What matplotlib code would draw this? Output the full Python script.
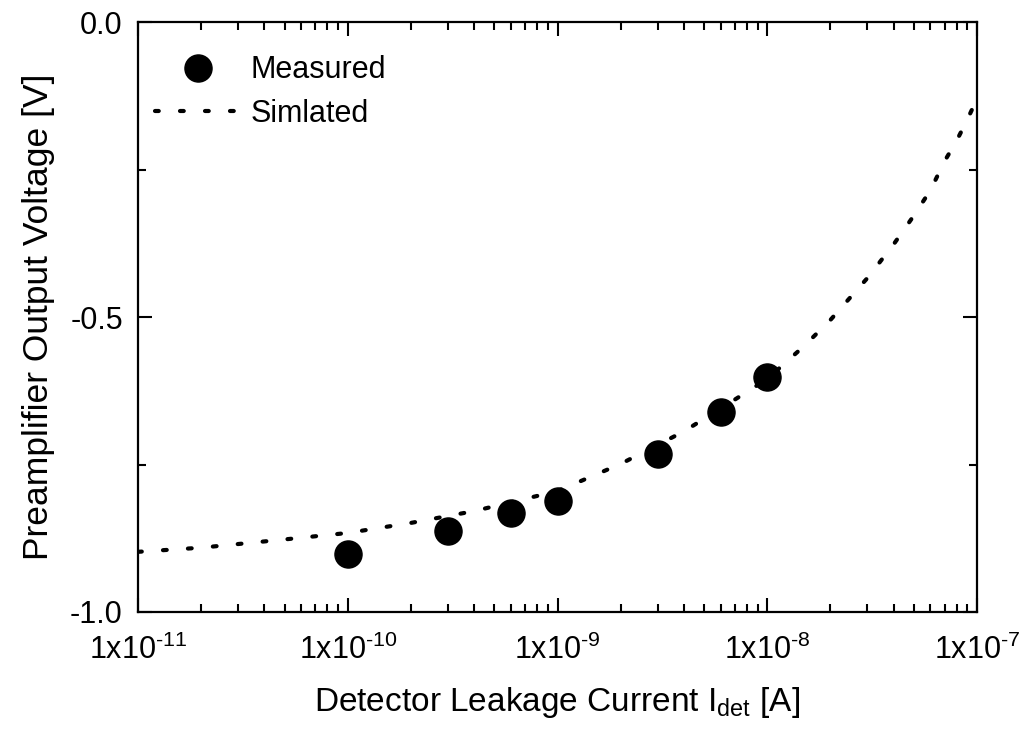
import numpy as np
import matplotlib
matplotlib.use("Agg")
import matplotlib.pyplot as plt
from matplotlib.ticker import LogLocator, FixedLocator, NullFormatter

plt.rcParams["font.family"] = ["Liberation Sans", "DejaVu Sans"]
plt.rcParams["mathtext.fontset"] = "custom"
plt.rcParams["mathtext.rm"] = "Liberation Sans"
plt.rcParams["mathtext.it"] = "Liberation Sans"
plt.rcParams["mathtext.default"] = "regular"

# measured preamp output vs leakage current
meas_current = [1e-10, 3e-10, 6e-10, 1e-9, 3e-9, 6e-9, 1e-8]
meas_voltage = [-0.902, -0.863, -0.832, -0.812, -0.732, -0.661, -0.602]

# simulated curve
sim_current = [1e-11, 2e-11, 5e-11, 1e-10, 2e-10, 4e-10, 1e-9, 2e-9, 4e-9,
               7e-9, 1e-8, 1.5e-8, 2e-8, 3e-8, 4e-8, 5e-8, 6e-8, 7e-8,
               8e-8, 9e-8, 1e-7]
sim_voltage = [-0.898, -0.891, -0.877, -0.866, -0.849, -0.829, -0.795,
               -0.749, -0.694, -0.640, -0.605, -0.549, -0.505, -0.434,
               -0.377, -0.328, -0.285, -0.236, -0.201, -0.165, -0.130]

x_ticks = [1e-11, 1e-10, 1e-9, 1e-8, 1e-7]
x_ticklabels = [r"1x10$^{\text{-}11}$", r"1x10$^{\text{-}10}$",
                r"1x10$^{\text{-}9}$", r"1x10$^{\text{-}8}$",
                r"1x10$^{\text{-}7}$"]
y_ticks = [-1.0, -0.5, 0.0]
y_ticklabels = ["-1.0", "-0.5", "0.0"]

fig = plt.figure(figsize=(10.34, 7.29), dpi=100)
ax = fig.add_axes([0.1335, 0.1605, 0.8114, 0.8093])

ax.plot(meas_current, meas_voltage, "o", color="black", markersize=19.5,
        linestyle="none", label="Measured")
ax.plot(sim_current, sim_voltage, color="black", linewidth=3.0,
        dashes=(0.9, 5.1), dash_capstyle="round", label="Simlated")

ax.set_xscale("log")
ax.set_xlim(1e-11, 1e-7)
ax.set_ylim(-1.0, 0.0)

ax.set_xticks(x_ticks)
ax.set_xticklabels(x_ticklabels)
ax.xaxis.set_minor_locator(LogLocator(base=10, subs=np.arange(2, 10)))
ax.xaxis.set_minor_formatter(NullFormatter())
ax.set_yticks(y_ticks)
ax.set_yticklabels(y_ticklabels)
ax.yaxis.set_minor_locator(FixedLocator([-0.75, -0.25]))

ax.tick_params(which="both", direction="in", top=True, right=True,
               width=1.5, labelsize=22)
ax.tick_params(axis="x", pad=16)
ax.tick_params(axis="y", pad=11)
ax.tick_params(which="major", length=10)
ax.tick_params(which="minor", length=6)
for s in ax.spines.values():
    s.set_linewidth(1.6)

ax.set_xlabel(r"Detector Leakage Current I$_{det}$ [A]", fontsize=24,
              labelpad=14)
ax.set_ylabel("Preamplifier Output Voltage [V]", fontsize=25.5, labelpad=11)

ax.legend(loc="upper left", frameon=False, fontsize=22, handlelength=2.8,
          handletextpad=0.33, labelspacing=0.45, borderaxespad=0.15,
          bbox_to_anchor=(0.0, 0.972))

fig.savefig("out.png", dpi=100)
